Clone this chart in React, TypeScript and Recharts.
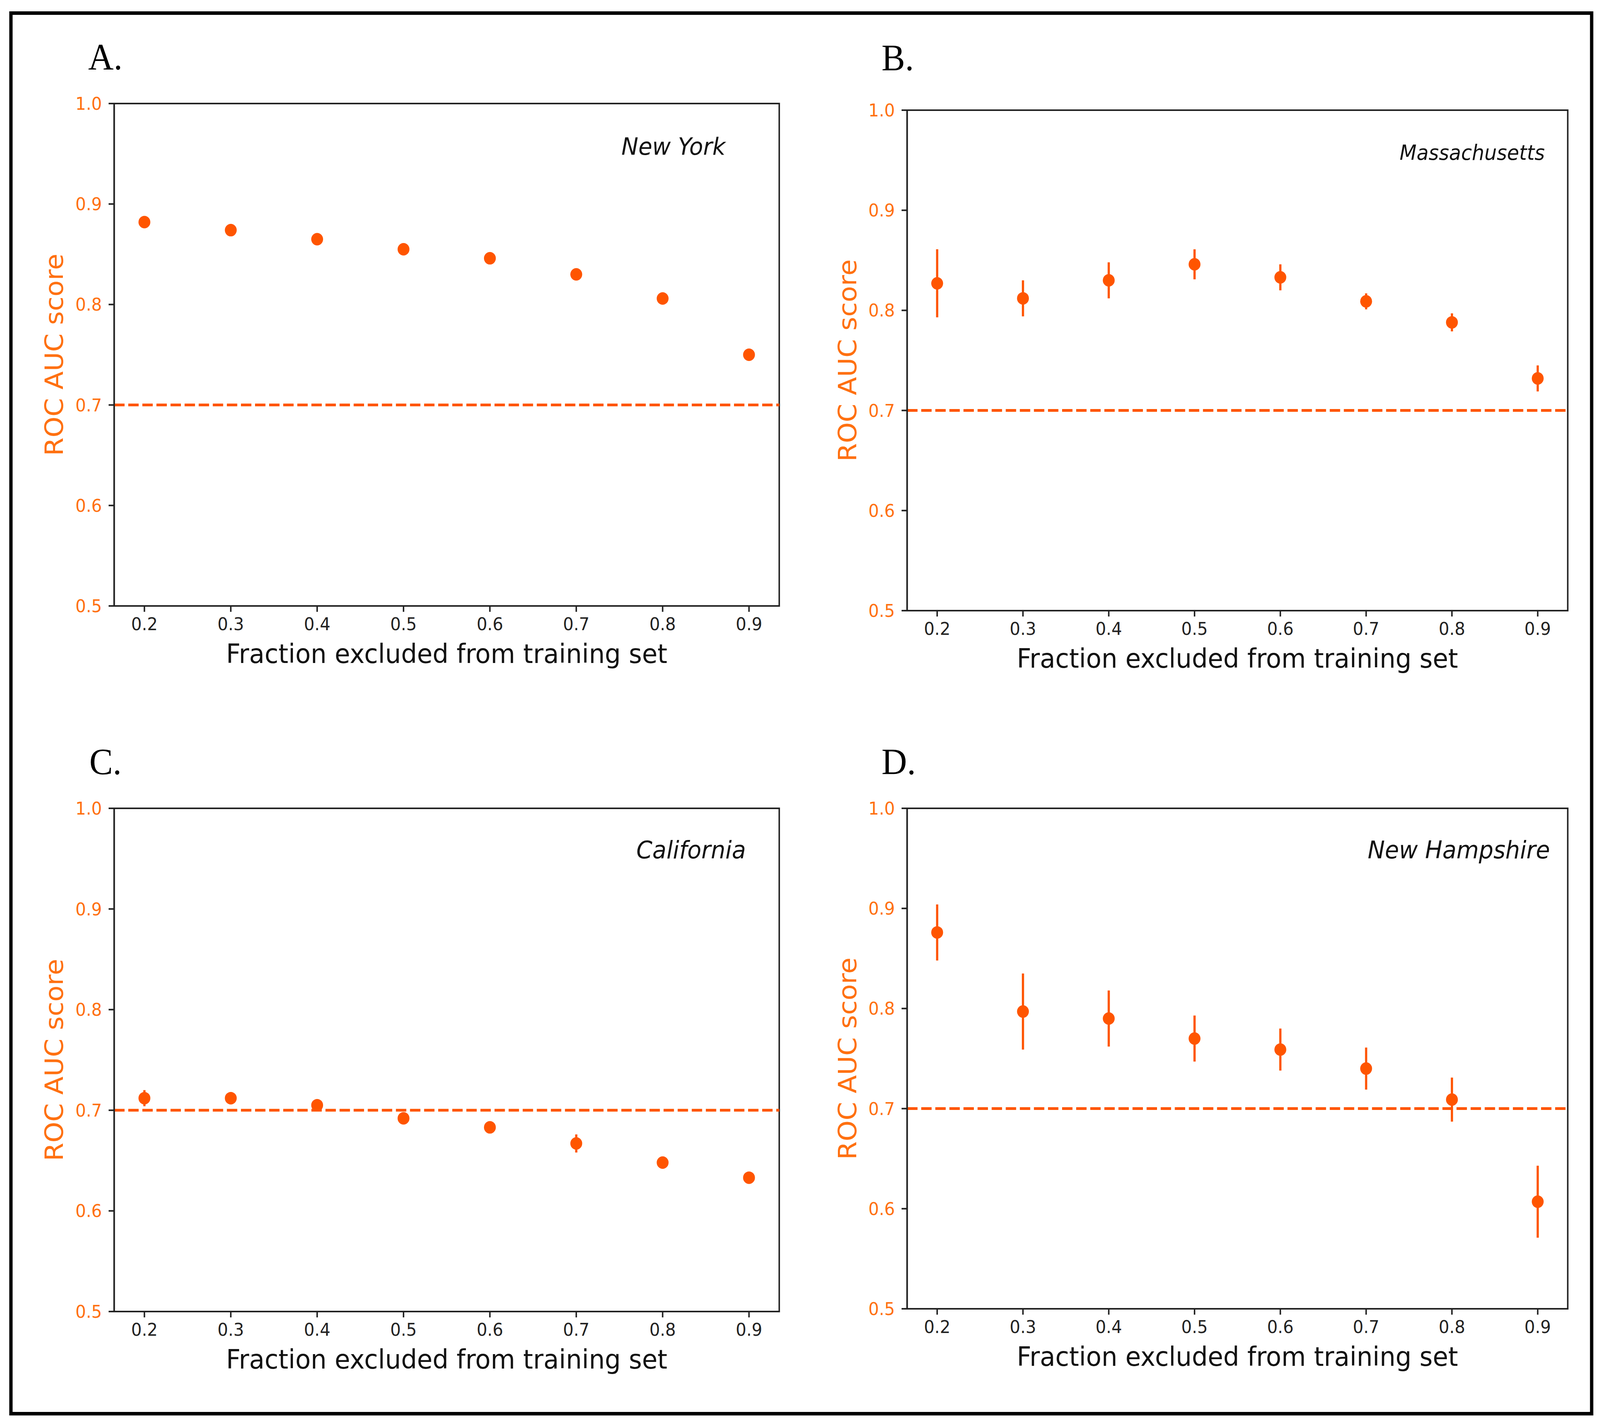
import React from "react";
import {
  ScatterChart,
  Scatter,
  XAxis,
  YAxis,
  ErrorBar,
  ReferenceLine,
  ReferenceArea,
  Label,
} from "recharts";

// fraction of data held out from training
const fractions = [0.2, 0.3, 0.4, 0.5, 0.6, 0.7, 0.8, 0.9];
const yTicks = [0.5, 0.6, 0.7, 0.8, 0.9, 1.0];
const threshold = 0.7;

const nyScore = [0.882, 0.874, 0.865, 0.855, 0.846, 0.83, 0.806, 0.75];
const nyErr = [0.003, 0.002, 0.002, 0.002, 0.002, 0.002, 0.002, 0.004];

const maScore = [0.827, 0.812, 0.83, 0.846, 0.833, 0.809, 0.788, 0.732];
const maErr = [0.034, 0.018, 0.018, 0.015, 0.013, 0.008, 0.009, 0.013];

const caScore = [0.712, 0.712, 0.705, 0.692, 0.683, 0.667, 0.648, 0.633];
const caErr = [0.008, 0.006, 0.004, 0.005, 0.004, 0.009, 0.006, 0.005];

const nhScore = [0.876, 0.797, 0.79, 0.77, 0.759, 0.74, 0.709, 0.607];
const nhErr = [0.028, 0.038, 0.028, 0.023, 0.021, 0.021, 0.022, 0.036];

const DOT = "#ff5500";
const TICK_ORANGE = "#ff7010";
const INK = "#222";
const SANS = "DejaVu Sans";
const SERIF = "Liberation Serif";

const PAGE_W = 4316;
const PAGE_H = 3650;
// the capture comes out narrower than the page, squeeze horizontally so the whole figure shows
const FIT_X = 4096 / PAGE_W;

const BOX_W = 2158;
const BOX_H = 1825;
const Y_W = 160;
const X_H = 200;

type Rect = { l: number; t: number; r: number; b: number };

interface PanelProps {
  left: number;
  top: number;
  plot: Rect;
  letter: string;
  letterPos: [number, number];
  title: string;
  titlePos: [number, number];
  titleSize: number;
  yLabelX: number;
  scores: number[];
  errs: number[];
}

const Dot = (p: any) => <circle cx={p.cx} cy={p.cy} r={16} fill={DOT} />;

function Panel(props: PanelProps) {
  const { plot } = props;
  const data = fractions.map((x, i) => ({ x, y: props.scores[i], e: props.errs[i] }));
  const midX = (plot.l + plot.r) / 2;
  const midY = (plot.t + plot.b) / 2;

  return (
    <div style={{ position: "absolute", left: props.left, top: props.top, width: BOX_W, height: BOX_H }}>
      <ScatterChart
        width={BOX_W}
        height={BOX_H}
        margin={{
          top: plot.t,
          left: plot.l - Y_W,
          right: BOX_W - plot.r,
          bottom: BOX_H - plot.b - X_H,
        }}
      >
        <XAxis
          type="number"
          dataKey="x"
          domain={[0.165, 0.935]}
          ticks={fractions}
          tickFormatter={(v: number) => v.toFixed(1)}
          height={X_H}
          tickSize={15}
          tickMargin={15}
          axisLine={{ stroke: INK, strokeWidth: 4 }}
          tickLine={{ stroke: INK, strokeWidth: 4 }}
          tick={{ fill: INK, fontSize: 45, fontFamily: SANS }}
        >
          <Label
            content={() => (
              <text x={midX} y={plot.b + 146} textAnchor="middle" fontSize={68} fontFamily={SANS} fill="#111">
                Fraction excluded from training set
              </text>
            )}
          />
        </XAxis>
        <YAxis
          type="number"
          dataKey="y"
          domain={[0.5, 1.0]}
          ticks={yTicks}
          tickFormatter={(v: number) => v.toFixed(1)}
          width={Y_W}
          tickSize={15}
          tickMargin={18}
          axisLine={{ stroke: INK, strokeWidth: 4 }}
          tickLine={{ stroke: INK, strokeWidth: 4 }}
          tick={{ fill: TICK_ORANGE, fontSize: 45, fontFamily: SANS }}
        >
          <Label
            content={() => (
              <text
                x={props.yLabelX}
                y={midY}
                transform={`rotate(-90 ${props.yLabelX} ${midY})`}
                textAnchor="middle"
                fontSize={68}
                fontFamily={SANS}
                fill={TICK_ORANGE}
              >
                ROC AUC score
              </text>
            )}
          />
        </YAxis>
        <ReferenceArea x1={0.165} x2={0.935} y1={0.5} y2={1.0} fill="none" stroke={INK} strokeWidth={4} />
        <ReferenceLine y={threshold} stroke={DOT} strokeWidth={7} strokeDasharray="28 10" />
        <Scatter data={data} fill={DOT} shape={Dot} isAnimationActive={false}>
          <ErrorBar dataKey="e" direction="y" width={0} stroke={DOT} strokeWidth={6} />
        </Scatter>
      </ScatterChart>
      <svg
        width={BOX_W}
        height={BOX_H}
        style={{ position: "absolute", left: 0, top: 0, pointerEvents: "none" }}
      >
        <text x={props.letterPos[0]} y={props.letterPos[1]} fontFamily={SERIF} fontSize={95} fill="#000">
          {props.letter}
        </text>
        <text
          x={props.titlePos[0]}
          y={props.titlePos[1]}
          textAnchor="end"
          fontFamily={SANS}
          fontStyle="italic"
          fontSize={props.titleSize}
          fill="#111"
        >
          {props.title}
        </text>
      </svg>
    </div>
  );
}

export default function App() {
  return (
    <div
      style={{
        position: "absolute",
        left: 0,
        top: 0,
        width: PAGE_W,
        height: PAGE_H,
        background: "#fff",
        transform: `scaleX(${FIT_X})`,
        transformOrigin: "0 0",
      }}
    >
      <Panel
        left={0}
        top={0}
        plot={{ l: 308, t: 265, r: 2102, b: 1551 }}
        letter="A."
        letterPos={[238, 178]}
        title="New York"
        titlePos={[1957, 396]}
        titleSize={61}
        yLabelX={170}
        scores={nyScore}
        errs={nyErr}
      />
      <Panel
        left={2158}
        top={0}
        plot={{ l: 289, t: 282, r: 2071, b: 1563 }}
        letter="B."
        letterPos={[220, 180]}
        title="Massachusetts"
        titlePos={[2009, 409]}
        titleSize={53}
        yLabelX={152}
        scores={maScore}
        errs={maErr}
      />
      <Panel
        left={0}
        top={1825}
        plot={{ l: 308, t: 244, r: 2102, b: 1532 }}
        letter="C."
        letterPos={[241, 157]}
        title="California"
        titlePos={[2012, 372]}
        titleSize={62}
        yLabelX={170}
        scores={caScore}
        errs={caErr}
      />
      <Panel
        left={2158}
        top={1825}
        plot={{ l: 289, t: 244, r: 2071, b: 1525 }}
        letter="D."
        letterPos={[220, 157]}
        title="New Hampshire"
        titlePos={[2023, 372]}
        titleSize={62}
        yLabelX={152}
        scores={nhScore}
        errs={nhErr}
      />
      <svg width={PAGE_W} height={PAGE_H} style={{ position: "absolute", left: 0, top: 0, pointerEvents: "none" }}>
        <rect x={29.5} y={33.5} width={4264} height={3585} fill="none" stroke="#000" strokeWidth={9} />
      </svg>
    </div>
  );
}
